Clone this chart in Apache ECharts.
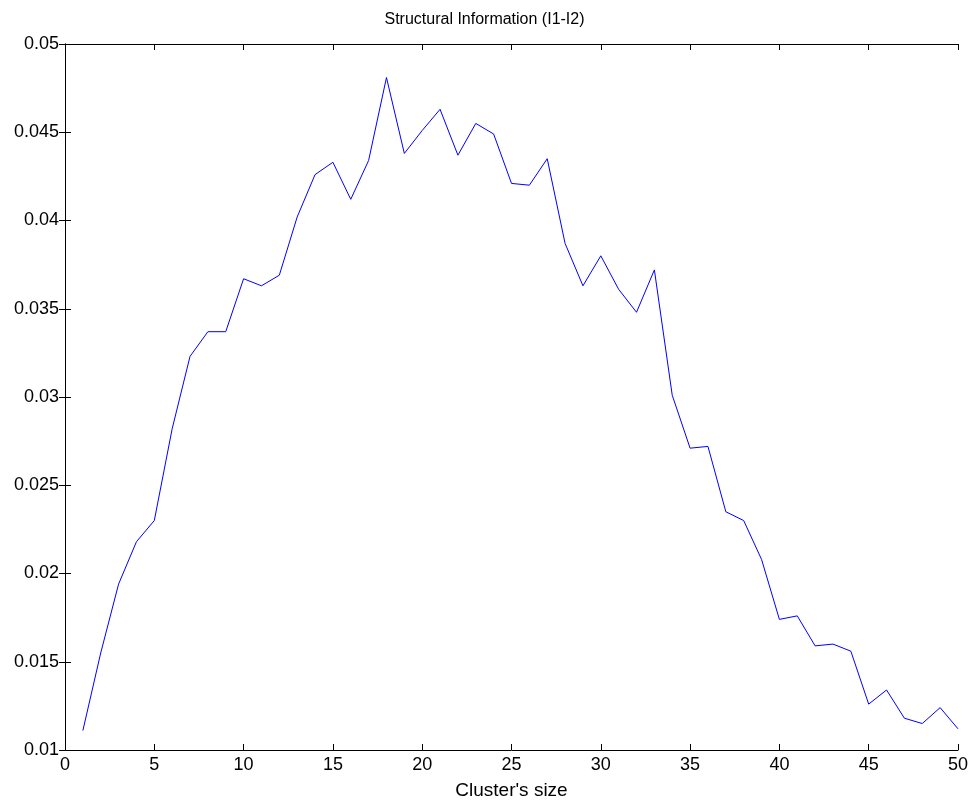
<!DOCTYPE html>
<html>
<head>
<meta charset="utf-8">
<script src="https://cdn.jsdelivr.net/npm/echarts@6/dist/echarts.min.js"></script>
<style>
  html, body { margin: 0; padding: 0; background: #fff; }
  #main { width: 969px; height: 800px; }
</style>
</head>
<body>
<div id="main"></div>
<script>
// cluster sizes 1..50
var clusterSize = [];
for (var i = 1; i <= 50; i++) clusterSize.push(i);

// structural information values
var info = [
  0.0111, 0.0155, 0.0194, 0.0218, 0.0230, 0.0282, 0.0323, 0.0337, 0.0337, 0.0367,
  0.0363, 0.0369, 0.0402, 0.0426, 0.0433, 0.0412, 0.0434, 0.0481, 0.0438, 0.0451,
  0.0463, 0.0437, 0.0455, 0.0449, 0.0421, 0.0420, 0.0435, 0.0387, 0.0363, 0.0380,
  0.0361, 0.0348, 0.0372, 0.0301, 0.0271, 0.0272, 0.0235, 0.0230, 0.0208, 0.0174,
  0.0176, 0.0159, 0.0160, 0.0156, 0.0126, 0.0134, 0.0118, 0.0115, 0.0124, 0.0112
];

var chartDom = document.getElementById('main');
var myChart = echarts.init(chartDom);
var option;

var fontFam = 'Liberation Sans, Arial, sans-serif';

option = {
    backgroundColor: '#fff',
    animation: false,
    title: {
        text: 'Structural Information (I1-I2)',
        left: 'center',
        top: 7,
        textStyle: { fontSize: 16, fontWeight: 'normal', color: '#000', fontFamily: fontFam }
    },
    grid: {
        left: 65,
        right: 11,
        top: 44,
        bottom: 50,
        containLabel: false,
        outerBoundsMode: 'none'
    },
    xAxis: [
        {
            type: 'value',
            min: 0,
            max: 50,
            interval: 5,
            name: "Cluster's size",
            nameLocation: 'middle',
            nameGap: 31,
            nameTextStyle: { fontSize: 19, color: '#000', fontFamily: fontFam },
            axisLine: { lineStyle: { color: '#000', width: 1 } },
            axisTick: { inside: true, length: 6, lineStyle: { color: '#000' } },
            axisLabel: { fontSize: 18, color: '#000', fontFamily: fontFam, margin: 6 },
            splitLine: { show: false }
        },
        {
            type: 'value',
            position: 'top',
            min: 0,
            max: 50,
            interval: 5,
            axisLine: { lineStyle: { color: '#000', width: 1 } },
            axisTick: { inside: true, length: 6, lineStyle: { color: '#000' } },
            axisLabel: { show: false },
            splitLine: { show: false }
        }
    ],
    yAxis: [
        {
            type: 'value',
            min: 0.01,
            max: 0.05,
            interval: 0.005,
            axisLine: { show: true, lineStyle: { color: '#000', width: 1 } },
            axisTick: { show: true, inside: true, length: 6, lineStyle: { color: '#000' } },
            axisLabel: {
                fontSize: 18, color: '#000', fontFamily: fontFam, margin: 6,
                formatter: function (v) { return String(parseFloat(v.toFixed(3))); }
            },
            splitLine: { show: false }
        },
        {
            type: 'value',
            position: 'right',
            min: 0.01,
            max: 0.05,
            interval: 0.005,
            axisLine: { show: true, lineStyle: { color: '#000', width: 1 } },
            axisTick: { show: true, inside: true, length: 6, lineStyle: { color: '#000' } },
            axisLabel: { show: false },
            splitLine: { show: false }
        }
    ],
    series: [
        {
            type: 'line',
            xAxisIndex: 0,
            yAxisIndex: 0,
            data: clusterSize.map(function (s, i) { return [s, info[i]]; }),
            showSymbol: false,
            lineStyle: { color: '#0000ff', width: 1 },
            itemStyle: { color: '#0000ff' }
        }
    ]
};

option && myChart.setOption(option);
</script>
</body>
</html>
